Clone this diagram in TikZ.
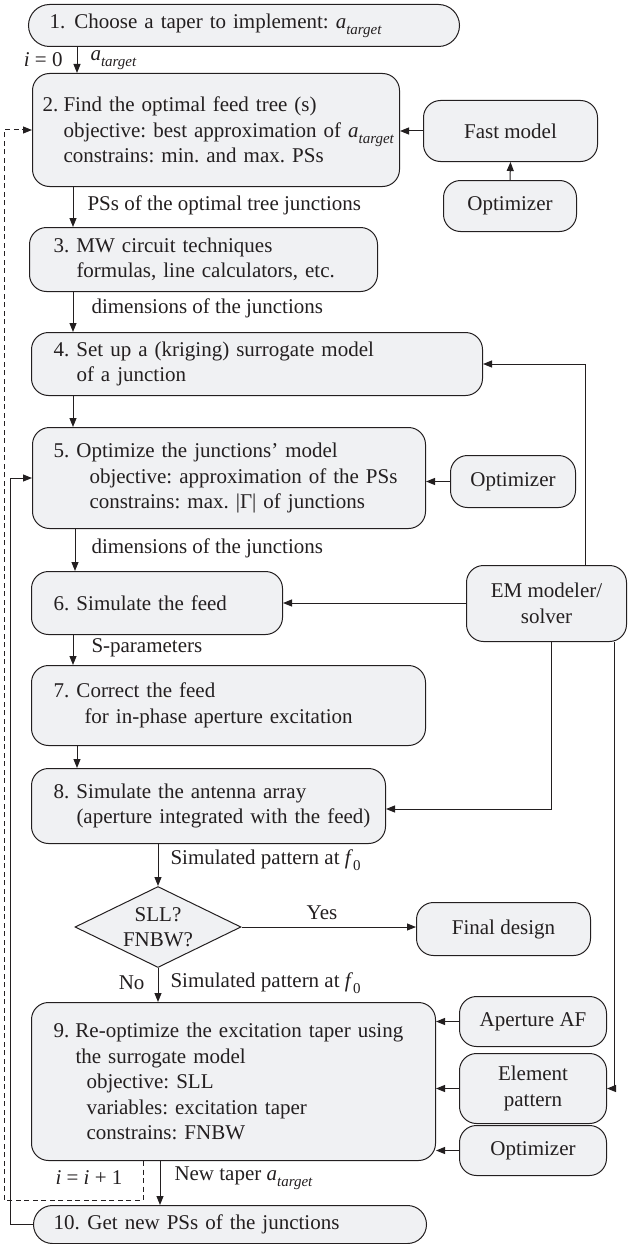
\documentclass[tikz,border=0pt]{standalone}
\usepackage{fontspec}
\setmainfont{Liberation Serif}
\usetikzlibrary{arrows.meta,shapes.geometric}
\definecolor{boxfill}{HTML}{F0F1F3}
\definecolor{ink}{HTML}{231F20}
\frenchspacing
% italic subscript, e.g. a_target
\newcommand\lsub[1]{\raisebox{-0.28em}{\fontsize{15}{15}\selectfont\itshape #1}}
\newcommand\atarget{\textit{a}\lsub{target}}
\newcommand\fzero{\textit{f}\raisebox{-0.28em}{\fontsize{15}{15}\selectfont 0}}
% step number of fixed width, and indentation of continuation lines
\newcommand\nr[2][23]{\makebox[#1pt][l]{#2}}
\newcommand\pad[1]{\hspace*{#1pt}}
\begin{document}
\begin{tikzpicture}[x=1pt,y=-1pt,line width=1pt,
  every node/.style={font=\fontsize{21}{25.5}\selectfont, text=ink},
  stepbox/.style={draw=ink, fill=boxfill, rounded corners=17pt, anchor=north west, align=left, inner ysep=0pt},
  sidebox/.style={draw=ink, fill=boxfill, rounded corners=17pt, anchor=north west, align=center, inner sep=0pt},
  lbl/.style={inner sep=0pt, anchor=west},
  arr/.style={draw=ink, -{Triangle[length=9pt,width=7pt]}},
  dashline/.style={dash pattern=on 5pt off 3.5pt}]
\useasboundingbox (0,0) rectangle (627,1244);

% main steps
\node[stepbox, rounded corners=21pt, minimum width=431pt, minimum height=42pt, inner xsep=21pt, text width=389pt] (b1) at (28,4)
  {\mbox{\nr[25]{1.}Choose a taper to implement: \atarget}};
\node[stepbox, minimum width=367pt, minimum height=113pt, inner xsep=10pt, text width=347pt] (b2) at (32,73)
  {\mbox{\nr[21]{2.}Find the optimal feed tree (s)}\\
   \mbox{\pad{21}objective: best approximation of \atarget}\\
   \mbox{\pad{21}constrains: min. and max. PSs}};
\node[stepbox, minimum width=348pt, minimum height=64pt, inner xsep=24pt, text width=300pt] (b3) at (29,227)
  {\mbox{\nr{3.}MW circuit techniques}\\
   \mbox{\pad{23}formulas, line calculators, etc.}};
\node[stepbox, minimum width=451pt, minimum height=63pt, inner xsep=22pt, text width=407pt] (b4) at (31,332)
  {\mbox{\nr{4.}Set up a (kriging) surrogate model}\\
   \mbox{\pad{23}of a junction}};
\node[stepbox, minimum width=393pt, minimum height=101pt, inner xsep=21pt, text width=351pt] (b5) at (32,427)
  {\mbox{\nr{5.}Optimize the junctions’ model}\\
   \mbox{\pad{36}objective: approximation of the PSs}\\
   \mbox{\pad{36}constrains: max. |Γ| of junctions}};
\node[stepbox, minimum width=251pt, minimum height=63pt, inner xsep=22pt, text width=207pt] (b6) at (31,571)
  {\mbox{\nr{6.}Simulate the feed}};
\node[stepbox, minimum width=394pt, minimum height=80pt, inner xsep=22pt, text width=350pt] (b7) at (31,665)
  {\mbox{\nr{7.}Correct the feed}\\
   \mbox{\pad{31}for in-phase aperture excitation}};
\node[stepbox, minimum width=354pt, minimum height=75pt, inner xsep=22pt, text width=310pt] (b8) at (31,768)
  {\mbox{\nr{8.}Simulate the antenna array}\\
   \mbox{\pad{23}(aperture integrated with the feed)}};
\node[stepbox, minimum width=404pt, minimum height=158pt, inner xsep=22pt, text width=360pt] (b9) at (31,1002)
  {\mbox{\nr[22]{9.}Re-optimize the excitation taper using}\\
   \mbox{\pad{22}the surrogate model}\\
   \mbox{\pad{33}objective: SLL}\\
   \mbox{\pad{33}variables: excitation taper}\\
   \mbox{\pad{33}constrains: FNBW}};
\node[stepbox, rounded corners=19pt, minimum width=393pt, minimum height=38pt, inner xsep=20pt, text width=353pt] (b10) at (33,1205)
  {\mbox{\nr[34]{10.}Get new PSs of the junctions}};

% decision
\node[diamond, draw=ink, fill=boxfill, minimum width=166pt, minimum height=81pt, inner sep=0pt, aspect=2, align=center] (dia) at (158,927)
  {SLL?\\FNBW?};

% side blocks
\node[sidebox, minimum width=174pt, minimum height=61pt] (fast) at (423,100) {Fast model};
\node[sidebox, minimum width=133pt, minimum height=51pt] (opt1) at (443,180) {Optimizer};
\node[sidebox, minimum width=125pt, minimum height=52pt] (opt2) at (450,455) {Optimizer};
\node[sidebox, minimum width=160pt, minimum height=76pt] (em) at (466,565) {EM modeler/\\solver};
\node[sidebox, minimum width=174pt, minimum height=53pt] (final) at (416,902) {Final design};
\node[sidebox, minimum width=147pt, minimum height=50pt] (apaf) at (459,996) {Aperture AF};
\node[sidebox, minimum width=147pt, minimum height=70pt] (elem) at (459,1053) {Element\\pattern};
\node[sidebox, minimum width=147pt, minimum height=50pt] (opt3) at (459,1125) {Optimizer};

% routing helpers
\coordinate (ax1) at (77,0);
\coordinate (ax2) at (73,0);
\coordinate (ax3) at (75,0);
\coordinate (ax4) at (160,0);
\coordinate (emu) at (585,0);
\coordinate (eml) at (551,0);
\coordinate (emr) at (614,0);
\coordinate (dashx) at (143,0);
\coordinate (dashb) at (4,1200);
\coordinate (solx) at (10,0);
\coordinate (in8) at (0,809);

% connectors
\draw[arr] (b1.south -| ax1) -- (b2.north -| ax1);
\draw[arr] (fast.west) -- (fast.west -| b2.east);
\draw[arr] (opt1.north) -- (fast.south);
\draw[arr] (b2.south -| ax2) -- (b3.north -| ax2);
\draw[arr] (b3.south -| ax2) -- (b4.north -| ax2);
\draw[arr] (em.north -| emu) |- (b4.east);
\draw[arr] (b4.south -| ax2) -- (b5.north -| ax2);
\draw[arr] (opt2.west) -- (opt2.west -| b5.east);
\draw[arr] (b5.south -| ax3) -- (b6.north -| ax3);
\draw[arr] (em.west |- b6.east) -- (b6.east);
\draw[arr] (b6.south -| ax2) -- (b7.north -| ax2);
\draw[arr] (b7.south -| ax1) -- (b8.north -| ax1);
\draw[arr] (em.south -| eml) |- (b8.east |- in8);
\draw[arr] (b8.south -| dia.north) -- (dia.north);
\draw[arr] (dia.east) -- (dia.east -| final.west);
\draw[arr] (dia.south) -- (b9.north -| dia.south);
\draw[arr] (apaf.west) -- (apaf.west -| b9.east);
\draw[arr] (em.south -| emr) |- (elem.east);
\draw[arr] (elem.west) -- (elem.west -| b9.east);
\draw[arr] (opt3.west) -- (opt3.west -| b9.east);
\draw[arr] (b9.south -| ax4) -- (b10.north -| ax4);
\draw[arr, dashline] (b9.south -| dashx) |- (dashb) |- (b2.west);
\draw[arr] (b10.west) -- (b10.west -| solx) |- (b5.west);

% connector labels
\node[lbl, anchor=east] (l1) at (63,60) {\textit{i} = 0};
\node[lbl] (l2) at (90,60) {\atarget};
\node[lbl] (l3) at (87,205) {PSs of the optimal tree junctions};
\node[lbl] (l4) at (91,308) {dimensions of the junctions};
\node[lbl] (l5) at (91,548) {dimensions of the junctions};
\node[lbl] (l6) at (91,648) {S-parameters};
\node[lbl] (l7) at (170,860) {Simulated pattern at \fzero};
\node[lbl, anchor=center] (l8) at (322,913) {Yes};
\node[lbl, anchor=east] (l9) at (145,983) {No};
\node[lbl] (l10) at (170,983) {Simulated pattern at \fzero};
\node[lbl] (l11) at (55,1178) {\textit{i} = \textit{i} + 1};
\node[lbl] (l12) at (174,1178) {New taper \atarget};
\end{tikzpicture}
\end{document}
